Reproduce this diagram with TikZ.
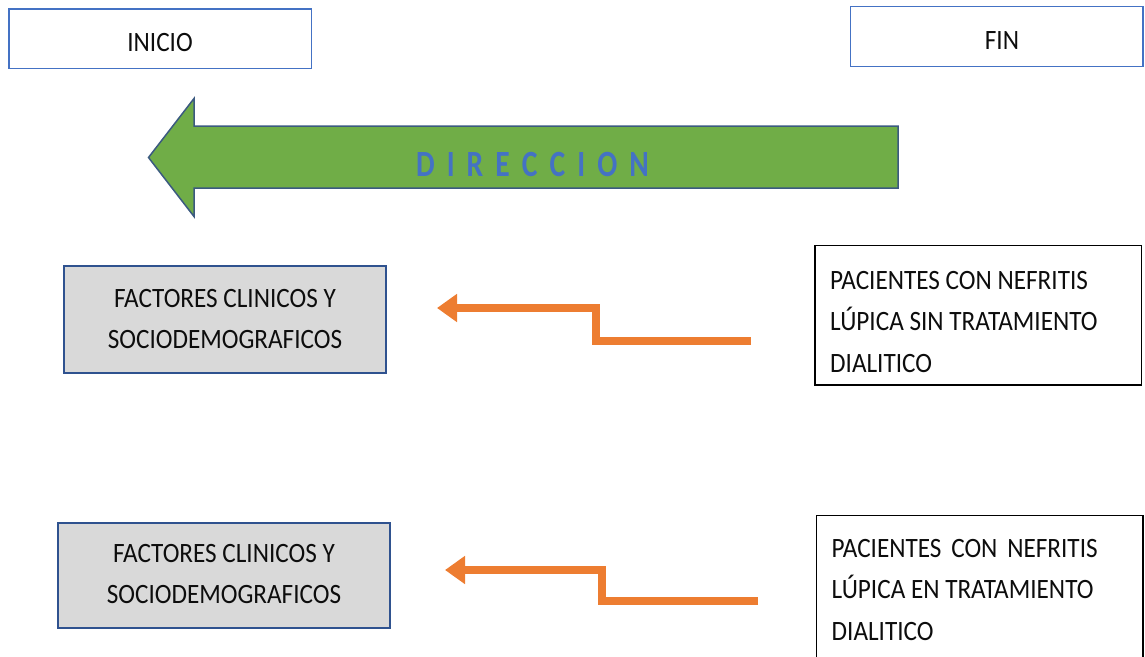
\documentclass[tikz,border=0pt]{standalone}
\usepackage{fontspec}
\setmainfont{Carlito}[FakeStretch=0.9]
\newfontfamily\dirfont{Carlito}[FakeStretch=0.8,WordSpace=1.8]
\usetikzlibrary{arrows.meta}
\definecolor{boxblue}{HTML}{4472C4}
\definecolor{darkblue}{HTML}{2F528F}
\definecolor{greenfill}{HTML}{70AD47}
\definecolor{greenline}{HTML}{3B5A80}
\definecolor{orangeline}{HTML}{ED7D31}
\definecolor{grayfill}{HTML}{D9D9D9}
\definecolor{txtgray}{HTML}{0D0D0D}
\tikzset{
  endbox/.style={draw=boxblue, line width=1.2pt, fill=white, inner sep=0pt},
  factorbox/.style={draw=darkblue, line width=1.2pt, fill=grayfill, inner sep=0pt},
  patientbox/.style={draw=black, line width=1.3pt, fill=white, inner sep=0pt},
  txt/.style={inner sep=0pt, text=txtgray, font=\fontsize{28}{41.5}\selectfont},
  dirshape/.style={draw=greenline, line width=1.5pt, fill=greenfill, line join=miter},
  dirtext/.style={inner sep=0pt, text=boxblue, font=\dirfont\bfseries\fontsize{37}{40}\selectfont},
  flowarrow/.style={draw=orangeline, line width=8pt, line join=miter, line cap=butt,
    -{Triangle[length=20pt,width=27pt]}}
}
\begin{document}
\begin{tikzpicture}[x=1pt,y=-1pt]
\useasboundingbox (0,0) rectangle (1145,656);
% top boxes
\node[endbox, minimum width=302.7pt, minimum height=59.3pt] (inicio) at (160.35,38.65) {};
\node[txt, anchor=base] (iniciot) at (160,51.5) {INICIO};
\node[endbox, minimum width=292.3pt, minimum height=60pt] (fin) at (996.85,36.7) {};
\node[txt, anchor=base] (fint) at (1002,49.5) {FIN};
% direction arrow
\draw[dirshape] (898,126) -- (194,126) -- (194,98.5) -- (148.5,157.5) -- (194,216.5) -- (194,188) -- (898,188) -- cycle;
\node[dirtext, anchor=base] (dir) at (532.5,176.5) {D I R E C C I O N};
% left boxes
\node[factorbox, minimum width=322pt, minimum height=107pt] (f1) at (225,319.5) {};
\node[txt, anchor=north, align=center] (f1t) at (225,285) {\rule{0pt}{22pt}FACTORES CLINICOS Y\\SOCIODEMOGRAFICOS};
\node[factorbox, minimum width=332pt, minimum height=105pt] (f2) at (224,575.5) {};
\node[txt, anchor=north, align=center] (f2t) at (224,540) {\rule{0pt}{22pt}FACTORES CLINICOS Y\\SOCIODEMOGRAFICOS};
% right boxes
\node[patientbox, minimum width=326.7pt, minimum height=139.3pt] (p1) at (978.35,315.35) {};
\node[txt, anchor=north west, align=left] (p1t) at (830,267) {\rule{0pt}{22pt}PACIENTES CON NEFRITIS\\LÚPICA SIN TRATAMIENTO\\DIALITICO};
\node[patientbox, minimum width=326.3pt, minimum height=150pt] (p2) at (979.85,590.7) {};
\node[txt, anchor=north west, align=left] (p2t) at (831.5,535) {\rule{0pt}{22pt}\makebox[266pt][s]{PACIENTES CON NEFRITIS}\\LÚPICA EN TRATAMIENTO\\DIALITICO};
% orange connectors
\coordinate (a1s) at (751,341);
\coordinate (a1e) at (437,308);
\draw[flowarrow] (a1s) -- ++(-155,0) |- (a1e);
\coordinate (a2s) at (758,601);
\coordinate (a2e) at (445,570);
\draw[flowarrow] (a2s) -- ++(-156,0) |- (a2e);
\end{tikzpicture}
\end{document}
